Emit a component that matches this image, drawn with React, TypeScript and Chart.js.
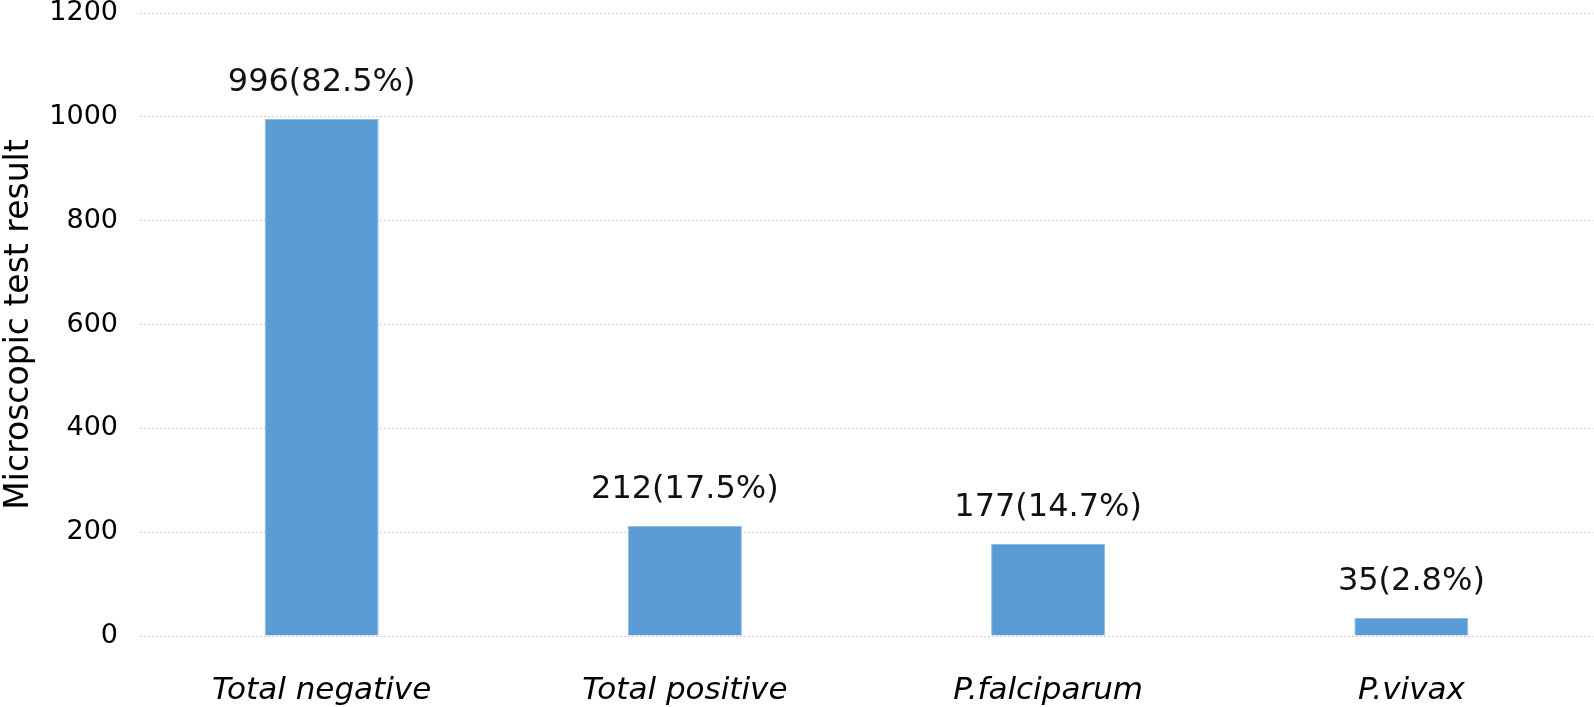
import React, { useEffect, useRef } from "react";
import { Chart, registerables } from "chart.js";

Chart.register(...registerables);

const categories = ["Total negative", "Total positive", "P.falciparum", "P.vivax"];
const counts = [996, 212, 177, 35];
const labels = ["996(82.5%)", "212(17.5%)", "177(14.7%)", "35(2.8%)"];
const yTitle = "Microscopic test result";
const yMin = 0;
const yMax = 1200;
const yStep = 200;

const FONT = "'DejaVu Sans'";

const valueLabels = {
  id: "valueLabels",
  afterDatasetsDraw(chart: any) {
    const ctx = chart.ctx;
    const meta = chart.getDatasetMeta(0);
    ctx.save();
    ctx.font = `32px ${FONT}`;
    ctx.fillStyle = "#111";
    ctx.textAlign = "center";
    ctx.textBaseline = "alphabetic";
    meta.data.forEach((bar: any, i: number) => {
      ctx.fillText(labels[i], bar.x, bar.y - 28);
    });
    ctx.restore();
  },
};

export default function App() {
  const ref = useRef<HTMLCanvasElement | null>(null);
  useEffect(() => {
    document.body.style.margin = "0";
    const chart = new Chart(ref.current!, {
      type: "bar",
      data: {
        labels: categories,
        datasets: [
          {
            data: counts,
            backgroundColor: "#5B9BD5",
            borderColor: "#8FBBE3",
            borderWidth: 1,
            categoryPercentage: 1,
            barPercentage: 0.314,
          },
        ],
      },
      options: {
        animation: false,
        responsive: false,
        layout: { padding: { top: 13, right: 1, left: 0, bottom: 0 } },
        plugins: { legend: { display: false }, tooltip: { enabled: false } },
        scales: {
          x: {
            grid: { display: false },
            border: { display: false },
            ticks: {
              color: "#000",
              font: { family: FONT, size: 31, style: "italic" },
              padding: 28,
              maxRotation: 0,
            },
            afterFit(scale: any) {
              scale.height = 71;
              scale.paddingLeft = 0;
              scale.paddingRight = 0;
            },
          },
          y: {
            min: yMin,
            max: yMax,
            ticks: {
              stepSize: yStep,
              color: "#000",
              font: { family: FONT, size: 27 },
              padding: 22,
              callback: (v: any) => String(v),
            },
            grid: { color: "#cfcfcf", lineWidth: 1, tickLength: 0 },
            border: { display: false, dash: [2, 2] },
            title: {
              display: true,
              text: yTitle,
              color: "#000",
              font: { family: FONT, size: 33 },
              padding: 0,
            },
            afterFit(scale: any) {
              scale.width = 140;
              scale.paddingTop = 0;
              scale.paddingBottom = 0;
            },
          },
        },
      },
      plugins: [valueLabels],
    });
    return () => chart.destroy();
  }, []);
  return (
    <div style={{ width: 1594, height: 707 }}>
      <canvas ref={ref} width={1594} height={707} />
    </div>
  );
}
